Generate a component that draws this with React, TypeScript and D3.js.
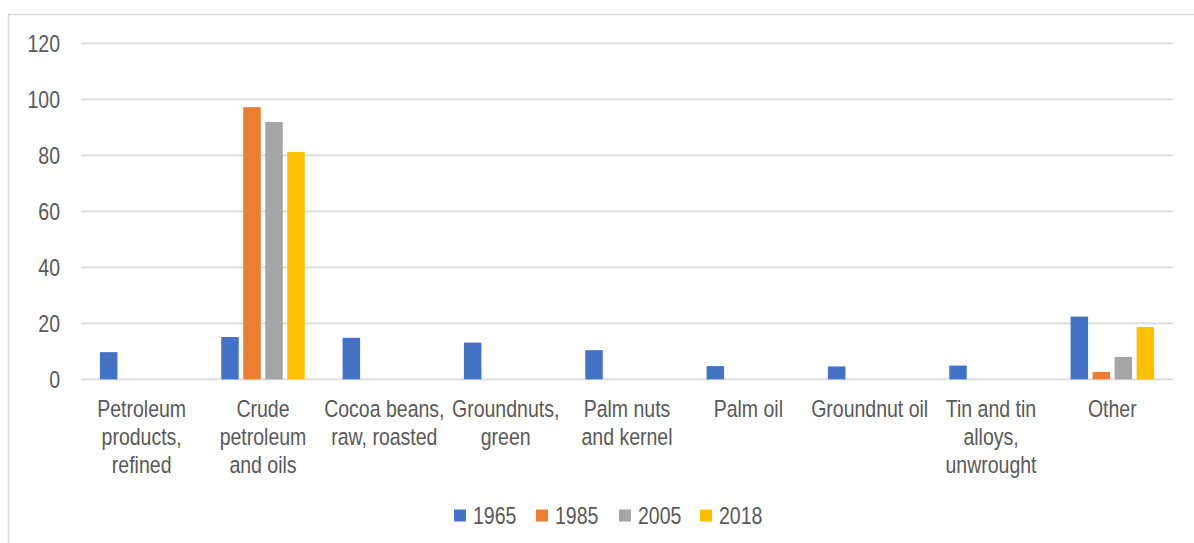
import React from "react";
import * as d3 from "d3";

// Export categories, each label pre-wrapped into lines
const categories = [
  "Petroleum products, refined",
  "Crude petroleum and oils",
  "Cocoa beans, raw, roasted",
  "Groundnuts, green",
  "Palm nuts and kernel",
  "Palm oil",
  "Groundnut oil",
  "Tin and tin alloys, unwrought",
  "Other",
];
const categoryLines = [
  ["Petroleum", "products,", "refined"],
  ["Crude", "petroleum", "and oils"],
  ["Cocoa beans,", "raw, roasted"],
  ["Groundnuts,", "green"],
  ["Palm nuts", "and kernel"],
  ["Palm oil"],
  ["Groundnut oil"],
  ["Tin and tin", "alloys,", "unwrought"],
  ["Other"],
];

const years = ["1965", "1985", "2005", "2018"];
const values1965 = [9.7, 15.1, 14.8, 13.1, 10.4, 4.7, 4.6, 4.9, 22.4];
const values1985 = [0, 97.2, 0, 0, 0, 0, 0, 0, 2.6];
const values2005 = [0, 91.9, 0, 0, 0, 0, 0, 0, 8.0];
const values2018 = [0, 81.2, 0, 0, 0, 0, 0, 0, 18.7];
const seriesValues = [values1965, values1985, values2005, values2018];
const seriesColors = ["#4472C4", "#ED7D31", "#A5A5A5", "#FFC000"];
const yTicks = [0, 20, 40, 60, 80, 100, 120];

const W = 1194;
const H = 543;
const plotLeft = 81;
const plotRight = 1173;
const plotTop = 43.3;
const plotBottom = 379.3;
const FONT = "'Liberation Sans', Arial, sans-serif";
const FONT_SIZE = 23.5;
const NARROW = 0.83; // horizontal squeeze for a condensed look
const TEXT = "#595959";

type NarrowTextProps = {
  x: number;
  y: number;
  anchor?: "start" | "middle" | "end";
  dy?: string;
  children: React.ReactNode;
};

// Text drawn with a horizontal squeeze around its anchor point
function NarrowText({ x, y, anchor = "start", dy, children }: NarrowTextProps) {
  return (
    <g transform={`translate(${x},${y}) scale(${NARROW},1)`}>
      <text x={0} y={0} dy={dy} textAnchor={anchor} fontSize={FONT_SIZE} fill={TEXT}>
        {children}
      </text>
    </g>
  );
}

export default function App() {
  const x0 = d3.scaleBand<string>().domain(categories).range([plotLeft, plotRight]).padding(0);
  const x1 = d3
    .scaleBand<string>()
    .domain(years)
    .range([0, x0.bandwidth()])
    .paddingInner(0.2045)
    .paddingOuter(0.86);
  const y = d3.scaleLinear().domain([0, 120]).range([plotBottom, plotTop]);

  const legendX = [454, 536, 619, 700];

  return (
    <svg
      width={W}
      height={H}
      style={{ position: "fixed", left: 0, top: 0, background: "#fff" }}
      fontFamily={FONT}
    >
      <rect x={0} y={0} width={W} height={H} fill="#fff" />
      {/* chart frame */}
      <rect x={8.5} y={14.5} width={W + 20} height={H + 20} fill="none" stroke="#d9d9d9" strokeWidth={1.5} />

      {/* gridlines and y tick labels */}
      {yTicks.map((t) => (
        <g key={t}>
          <line x1={plotLeft} x2={plotRight} y1={y(t)} y2={y(t)} stroke="#d9d9d9" strokeWidth={1.8} />
          <NarrowText x={60} y={y(t)} dy="0.36em" anchor="end">
            {t}
          </NarrowText>
        </g>
      ))}

      {/* bars */}
      {categories.map((c, ci) => (
        <g key={c} transform={`translate(${x0(c)},0)`}>
          {years.map((yr, si) => {
            const v = seriesValues[si][ci];
            if (!v) return null;
            return (
              <rect
                key={yr}
                x={x1(yr)}
                y={y(v)}
                width={x1.bandwidth()}
                height={y(0) - y(v)}
                fill={seriesColors[si]}
              />
            );
          })}
        </g>
      ))}

      {/* category labels */}
      {categories.map((c, ci) => {
        const cx = (x0(c) ?? 0) + x0.bandwidth() / 2;
        return (
          <g key={c}>
            {categoryLines[ci].map((ln, li) => (
              <NarrowText key={li} x={cx} y={416.7 + li * 28} anchor="middle">
                {ln}
              </NarrowText>
            ))}
          </g>
        );
      })}

      {/* legend */}
      {years.map((yr, si) => (
        <g key={yr}>
          <rect x={legendX[si]} y={509.5} width={12} height={12} fill={seriesColors[si]} />
          <NarrowText x={legendX[si] + 19} y={524}>
            {yr}
          </NarrowText>
        </g>
      ))}
    </svg>
  );
}
